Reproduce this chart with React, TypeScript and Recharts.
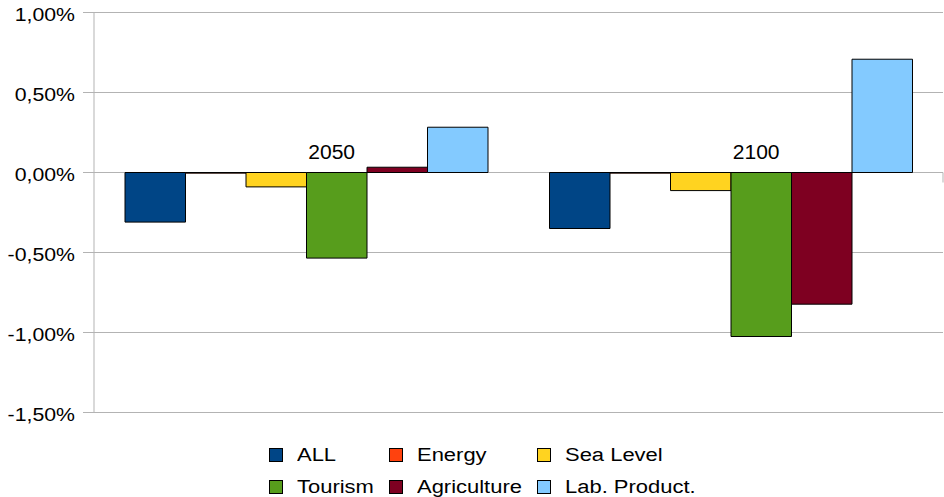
import React from 'react';
import { BarChart, Bar, XAxis, YAxis, CartesianGrid, ReferenceLine, ReferenceDot } from 'recharts';

const categories = ['2050', '2100'];
const seriesNames = ['ALL', 'Energy', 'Sea Level', 'Tourism', 'Agriculture', 'Lab. Product.'];
const seriesKeys = ['all', 'energy', 'seaLevel', 'tourism', 'agriculture', 'labProduct'];
const seriesColors = ['#004586', '#ff420e', '#ffd320', '#579d1c', '#7e0021', '#83caff'];

const allValues = [-0.31, -0.35];
const energyValues = [-0.004, -0.004];
const seaLevelValues = [-0.09, -0.113];
const tourismValues = [-0.535, -1.025];
const agricultureValues = [0.033, -0.823];
const labProductValues = [0.283, 0.708];

const yTicks = [-1.5, -1, -0.5, 0, 0.5, 1];

const seriesValues = [allValues, energyValues, seaLevelValues, tourismValues, agricultureValues, labProductValues];

const data = categories.map((c, i) => {
  const row: Record<string, any> = { category: c };
  seriesKeys.forEach((k, s) => {
    row[k] = seriesValues[s][i];
  });
  return row;
});

const FONT = '"Liberation Sans", Arial, sans-serif';
const GRID = '#b3b3b3';

const fmt = (v: number) => v.toFixed(2).replace('.', ',') + '%';

const YTick = (props: any) => {
  const { x, y, payload } = props;
  return (
    <text
      transform={`translate(${x},${y + 8.3}) scale(1.12,1)`}
      textAnchor="end"
      fontSize={19}
      fontFamily={FONT}
      fill="#000"
    >
      {fmt(payload.value)}
    </text>
  );
};

const CatLabel = (name: string) => (props: any) => {
  const vb = props.viewBox || {};
  const x = (vb.x ?? 0) + (vb.width ?? 0) / 2;
  const y = (vb.y ?? 0) + (vb.height ?? 0) / 2;
  return (
    <text
      transform={`translate(${x + 2},${y - 13.5}) scale(1.08,1)`}
      textAnchor="start"
      fontSize={19.5}
      fontFamily={FONT}
      fill="#000"
    >
      {name}
    </text>
  );
};

const DividerTick = (props: any) => {
  const { cx, cy } = props;
  if (cx == null || cy == null) return null;
  return <line x1={cx} x2={cx} y1={cy} y2={cy + 10} stroke={GRID} strokeWidth={1} />;
};

const legendCols = [269, 389, 537];
const legendRows = [455, 486.5];

export default function App() {
  return (
    <div style={{ position: 'absolute', left: 0, top: 0, width: 944, height: 497, background: '#fff', fontFamily: FONT }}>
      <BarChart
        width={944}
        height={497}
        data={data}
        margin={{ top: 12.5, right: 1, bottom: 84.5, left: 0 }}
        barGap={0}
        barSize={60.5}
      >
        <CartesianGrid vertical={false} stroke={GRID} strokeWidth={1} />
        <XAxis xAxisId="cat" dataKey="category" hide />
        <XAxis xAxisId="num" type="number" domain={[0, 2]} hide />
        <YAxis
          width={94}
          domain={[-1.5, 1]}
          ticks={yTicks}
          interval={0}
          axisLine={{ stroke: GRID }}
          tickLine={{ stroke: GRID }}
          tickSize={11}
          tickMargin={8}
          tick={<YTick />}
        />
        {seriesKeys.map((k, s) => (
          <Bar
            key={k}
            xAxisId="cat"
            dataKey={k}
            name={seriesNames[s]}
            fill={seriesColors[s]}
            stroke="#000"
            strokeWidth={1}
            isAnimationActive={false}
          />
        ))}
        <ReferenceLine xAxisId="num" x={2} stroke={GRID} strokeWidth={1} />
        <ReferenceDot xAxisId="num" x={1} y={0} r={1} shape={<DividerTick />} ifOverflow="visible" />
        {categories.map((c) => (
          <ReferenceDot
            key={c}
            xAxisId="cat"
            x={c}
            y={0}
            r={0}
            fill="none"
            stroke="none"
            label={CatLabel(c)}
          />
        ))}
      </BarChart>
      {seriesNames.map((name, i) => {
        const col = i % 3;
        const row = Math.floor(i / 3);
        return (
          <div
            key={name}
            style={{
              position: 'absolute',
              left: legendCols[col],
              top: legendRows[row] - 10,
              height: 20,
              display: 'flex',
              alignItems: 'center',
              whiteSpace: 'nowrap',
            }}
          >
            <div style={{ width: 12, height: 12, border: '1px solid #000', background: seriesColors[i] }} />
            <span
              style={{
                marginLeft: 14,
                fontSize: 18,
                lineHeight: '20px',
                display: 'inline-block',
                transform: 'scaleX(1.22)',
                transformOrigin: 'left center',
                color: '#000',
              }}
            >
              {name}
            </span>
          </div>
        );
      })}
    </div>
  );
}
